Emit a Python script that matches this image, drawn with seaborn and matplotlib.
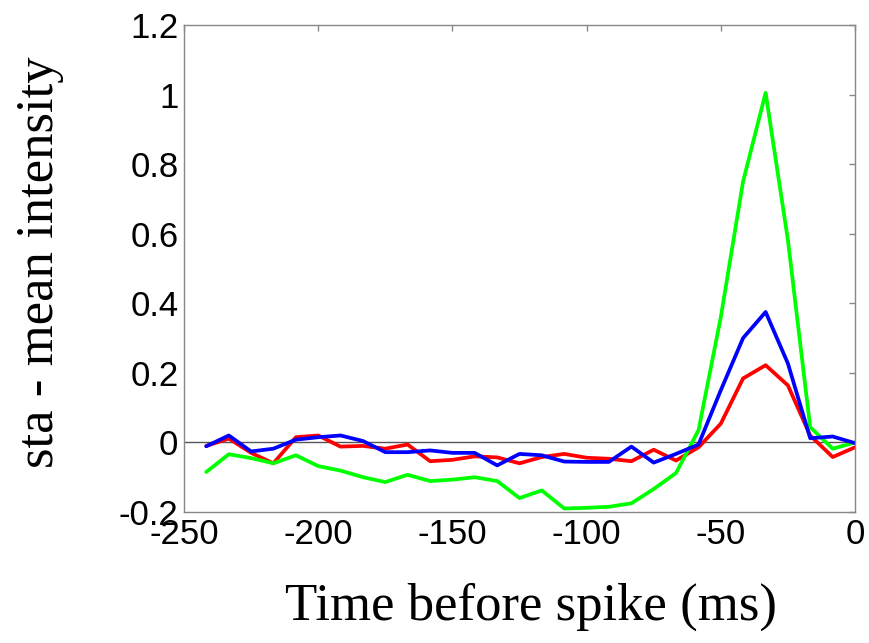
import numpy as np
import pandas as pd
import seaborn as sns
import matplotlib
matplotlib.use("Agg")
import matplotlib.pyplot as plt
from matplotlib.ticker import FuncFormatter

# time before spike (ms), 30 samples at ~8.33 ms spacing
time_ms = [-241.7, -233.3, -225.0, -216.7, -208.3, -200.0, -191.7, -183.3, -175.0, -166.7,
           -158.3, -150.0, -141.7, -133.3, -125.0, -116.7, -108.3, -100.0, -91.7, -83.3,
           -75.0, -66.7, -58.3, -50.0, -41.7, -33.3, -25.0, -16.7, -8.3, 0.0]

red_vals = [-0.010, 0.011, -0.030, -0.060, 0.015, 0.020, -0.012, -0.010, -0.018, -0.006,
            -0.054, -0.050, -0.040, -0.043, -0.060, -0.042, -0.033, -0.044, -0.047, -0.054,
            -0.021, -0.052, -0.014, 0.054, 0.184, 0.222, 0.164, 0.020, -0.042, -0.014]

green_vals = [-0.085, -0.034, -0.045, -0.060, -0.037, -0.068, -0.081, -0.100, -0.114, -0.093,
              -0.111, -0.107, -0.100, -0.111, -0.160, -0.138, -0.190, -0.188, -0.185, -0.175,
              -0.134, -0.088, 0.035, 0.360, 0.750, 1.005, 0.582, 0.044, -0.018, 0.000]

blue_vals = [-0.011, 0.020, -0.026, -0.018, 0.008, 0.015, 0.020, 0.004, -0.028, -0.028,
             -0.023, -0.030, -0.030, -0.066, -0.033, -0.037, -0.055, -0.056, -0.056, -0.012,
             -0.058, -0.033, -0.006, 0.150, 0.300, 0.375, 0.227, 0.012, 0.017, -0.002]

series_names = ["red", "green", "blue"]
series_colors = {"red": "#ff0000", "green": "#00ff00", "blue": "#0000ff"}

x_ticks = [-250, -200, -150, -100, -50, 0]
y_ticks = [-0.2, 0, 0.2, 0.4, 0.6, 0.8, 1.0, 1.2]

df = pd.concat([
    pd.DataFrame({"t": time_ms, "v": red_vals, "s": "red"}),
    pd.DataFrame({"t": time_ms, "v": green_vals, "s": "green"}),
    pd.DataFrame({"t": time_ms, "v": blue_vals, "s": "blue"}),
], ignore_index=True)

sns.set_theme(style="white")
plt.rcParams["axes.unicode_minus"] = False

fig = plt.figure(figsize=(8.7, 6.43), dpi=100)
ax = fig.add_axes([184 / 870, 1 - 512 / 643, (855 - 184) / 870, (512 - 25) / 643])

ax.axhline(0, color="#555555", lw=1.0, zorder=1)
sns.lineplot(data=df, x="t", y="v", hue="s", hue_order=series_names,
             palette=series_colors, lw=2.7, ax=ax, legend=False, sort=False,
             estimator=None, zorder=2)

ax.set_xlim(-250, 0)
ax.set_ylim(-0.2, 1.2)
ax.set_xticks(x_ticks)
ax.set_yticks(y_ticks)
ax.yaxis.set_major_formatter(FuncFormatter(lambda v, p: "%g" % round(v, 2)))
ax.tick_params(direction="in", length=4, width=1, color="#888888",
               top=True, right=True, labelsize=25, labelcolor="black", pad=4)
for lab in ax.get_xticklabels() + ax.get_yticklabels():
    lab.set_fontfamily("Liberation Sans")
for sp in ax.spines.values():
    sp.set_color("#888888")
    sp.set_linewidth(1.0)

ax.set_xlabel("")
ax.set_ylabel("")
fig.text(531 / 870, 1 - 607 / 643, "Time before spike (ms)", ha="center", va="center",
         fontsize=38, color="black", family="Liberation Serif")
fig.text(40 / 870, 1 - 262 / 643, "sta - mean intensity", ha="center", va="center",
         rotation=90, fontsize=38, color="black", family="Liberation Serif")

fig.savefig("out.png", dpi=100)
